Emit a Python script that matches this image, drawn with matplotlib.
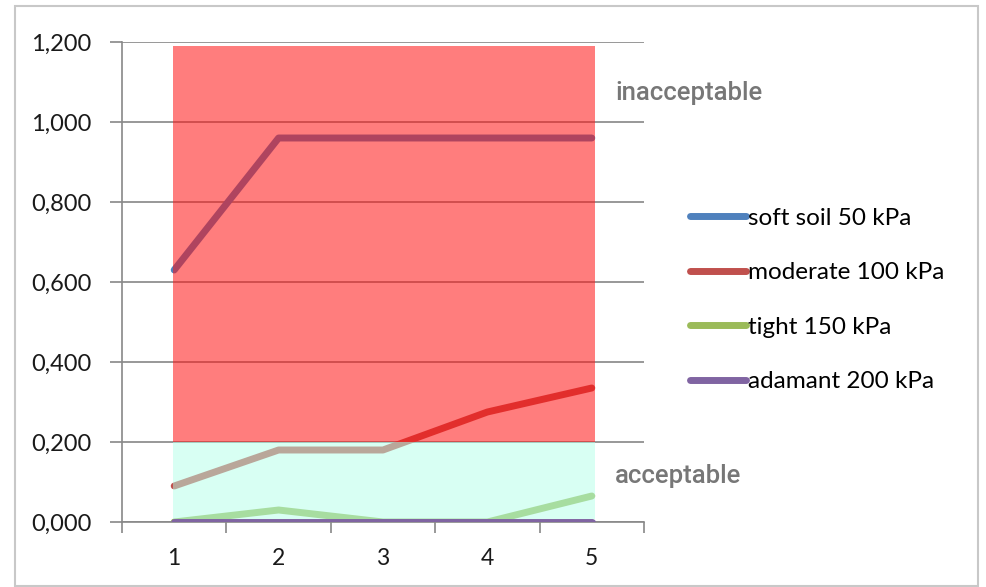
import matplotlib
matplotlib.use("Agg")
import matplotlib.pyplot as plt
from matplotlib.patches import Rectangle
from matplotlib.ticker import FuncFormatter

# ---- data ----
x_values = [1, 2, 3, 4, 5]
soft_soil = [0.63, 0.96, 0.96, 0.96, 0.96]
moderate = [0.09, 0.18, 0.18, 0.275, 0.335]
tight = [0.0, 0.03, 0.0, 0.0, 0.065]
adamant = [0.0, 0.0, 0.0, 0.0, 0.0]
series_labels = ["soft soil 50 kPa", "moderate 100 kPa", "tight 150 kPa", "adamant 200 kPa"]
series_colors = ["#4F81BD", "#C0504D", "#9BBB59", "#8064A2"]
y_ticks = [0.0, 0.2, 0.4, 0.6, 0.8, 1.0, 1.2]
limit_acceptable = 0.2
limit_top = 1.19
zone_x = (0.99, 5.03)
zone_labels = ["inacceptable", "acceptable"]

fig = plt.figure(figsize=(9.86, 5.87), dpi=100)
fig.patch.set_facecolor("white")
ax = fig.add_axes([122 / 986, 1 - 522 / 587, (644 - 122) / 986, (522 - 42) / 587])

# outer frame
fig.patches.append(Rectangle((15 / 986, 1 - 586 / 587), (978 - 15) / 986, (586 - 6) / 587,
                             transform=fig.transFigure, fill=False, edgecolor="#c8c8c8",
                             linewidth=1.5, zorder=0))

for vals, lab, col in zip([soft_soil, moderate, tight, adamant], series_labels, series_colors):
    ax.plot(x_values, vals, color=col, linewidth=5, solid_capstyle="round",
            solid_joinstyle="round", label=lab, zorder=3)

# zones
ax.add_patch(Rectangle((zone_x[0], limit_acceptable), zone_x[1] - zone_x[0],
                       limit_top - limit_acceptable, facecolor=(1.0, 0.07, 0.07),
                       alpha=0.55, edgecolor="none", zorder=4))
ax.add_patch(Rectangle((zone_x[0], 0.008), zone_x[1] - zone_x[0], limit_acceptable - 0.008,
                       facecolor=(0.70, 1.0, 0.91), alpha=0.5, edgecolor="none", zorder=4))

ax.set_xlim(0.5, 5.5)
ax.set_ylim(0, 1.2)
ax.set_yticks(y_ticks)
ax.yaxis.set_major_formatter(FuncFormatter(lambda v, p: f"{v:.3f}".replace(".", ",")))
ax.set_xticks(x_values)
ax.set_xticks([v + 0.5 for v in [0] + x_values], minor=True)
ax.tick_params(axis="x", which="major", length=0, pad=19, labelsize=16.5, labelcolor="#1a1a1a")
ax.tick_params(axis="x", which="minor", length=8, width=1.2, color="#888888")
ax.tick_params(axis="y", which="major", length=9, width=1.2, color="#888888",
               pad=13, labelsize=17, labelcolor="#1a1a1a")
for lab in ax.get_xticklabels() + ax.get_yticklabels():
    lab.set_fontfamily("Lato")

ax.grid(axis="y", color="#868686", linewidth=1.2, zorder=1)
ax.set_axisbelow(True)
for side in ["top", "right"]:
    ax.spines[side].set_visible(False)
for side in ["left", "bottom"]:
    ax.spines[side].set_color("#888888")
    ax.spines[side].set_linewidth(1.2)

ax.text((615 - 122) / 522, (522 - 93) / 480, zone_labels[0], transform=ax.transAxes,
        fontsize=18.5, family="Roboto", fontweight="medium", color="#777777",
        va="center", ha="left")
ax.text((615 - 122) / 522, (522 - 476) / 480, zone_labels[1], transform=ax.transAxes,
        fontsize=18.5, family="Roboto", fontweight="medium", color="#777777",
        va="center", ha="left")

leg = fig.legend(loc="center left", bbox_to_anchor=(668 / 986, 1 - 300 / 587),
                 frameon=False, prop={"family": "Lato", "size": 17.5},
                 handlelength=2.3, handletextpad=0.1, labelspacing=1.38)
for h in leg.legend_handles:
    h.set_linewidth(5)

fig.savefig("out.png", dpi=100)
